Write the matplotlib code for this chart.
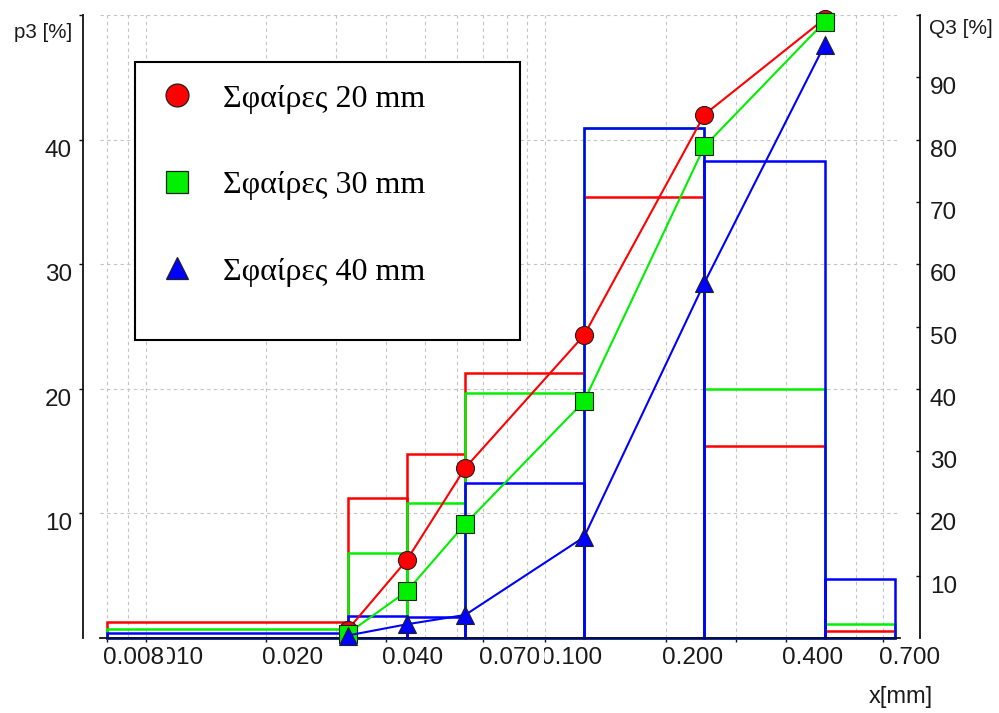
import numpy as np
import matplotlib
matplotlib.use("Agg")
import matplotlib.pyplot as plt
from matplotlib.lines import Line2D
from matplotlib.patches import Rectangle

# --- sieve classes (mm) ---
edges = [0.008, 0.032, 0.045, 0.063, 0.125, 0.25, 0.5, 0.75]
sieves = edges[1:-1]

# p3: mass fraction per class [%]
p3_20 = [1.3, 11.2, 14.8, 21.3, 35.4, 15.4, 0.6]
p3_30 = [0.7, 6.8, 10.8, 19.7, 40.9, 20.0, 1.1]
p3_40 = [0.4, 1.8, 1.7, 12.4, 40.9, 38.3, 4.7]

# Q3: cumulative passing at each sieve [%]
Q3_20 = [1.3, 12.5, 27.3, 48.6, 84.0, 99.4]
Q3_30 = [0.7, 7.5, 18.3, 38.0, 78.9, 98.9]
Q3_40 = [0.4, 2.2, 3.7, 16.2, 57.0, 95.2]

labels = ["Σφαίρες 20 mm", "Σφαίρες 30 mm", "Σφαίρες 40 mm"]
colors = ["#ff0000", "#00f000", "#0000ff"]
markers = ["o", "s", "^"]

xticks = [0.008, 0.010, 0.020, 0.040, 0.070, 0.100, 0.200, 0.400, 0.700]
xticklabels = ["0.008", "0.010", "0.020", "0.040", "0.070", "0.100", "0.200", "0.400", "0.700"]

plt.rcParams["font.family"] = ["Liberation Sans", "DejaVu Sans"]
txt_col = "#1a1a1a"

fig = plt.figure(figsize=(9.99, 7.13), dpi=100)
ax = fig.add_axes([100 / 999, 75 / 713, 800 / 999, 623 / 713])
ax2 = ax.twinx()

# --- histogram (p3) ---
widths = np.diff(edges)
for p3, c in zip([p3_20, p3_30, p3_40], colors):
    ax.bar(edges[:-1], p3, width=widths, align="edge", fill=False,
           edgecolor=c, linewidth=1.8, clip_on=False, zorder=2)

ax.set_xscale("log")
ax.set_xlim(0.00768, 0.772)
ax.set_ylim(0, 50)

# --- cumulative curves (Q3) ---
for Q3, c, m in zip([Q3_20, Q3_30, Q3_40], colors, markers):
    ax2.plot(sieves, Q3, color=c, lw=1.5, marker=m, ms=13,
             mfc=c, mec="#202020", mew=0.8, clip_on=False, zorder=3)
ax2.set_ylim(0, 100)

# grid
grid_kw = dict(color="#c4c4c4", linestyle=(0, (3, 3)), linewidth=0.8)
ax.grid(which="both", axis="x", **grid_kw)
ax.grid(which="major", axis="y", **grid_kw)
ax.set_axisbelow(True)

# spines
for s in ["top", "right"]:
    ax.spines[s].set_visible(False)
for s in ["top", "left", "bottom"]:
    ax2.spines[s].set_visible(False)
ax.spines["left"].set_position(("outward", 12.2))
ax2.spines["right"].set_position(("outward", 14.4))
for sp in [ax.spines["left"], ax.spines["bottom"], ax2.spines["right"]]:
    sp.set_linewidth(1.3)
    sp.set_color("#111111")

# x ticks: labels drawn by hand so the left ones sit on top
ax.set_xticks(xticks + [0.3])
ax.set_xticklabels([])
ax.xaxis.set_minor_formatter(plt.NullFormatter())
ax.tick_params(axis="x", which="major", direction="out", length=3, width=1, color="#111111")
ax.tick_params(axis="x", which="minor", length=0)
for i, (xv, lab) in enumerate(zip(xticks, xticklabels)):
    ax.annotate(lab, xy=(xv, 0), xycoords=("data", "axes fraction"),
                xytext=(-4, -9), textcoords="offset pixels",
                ha="left", va="top", fontsize=17.5, color=txt_col,
                bbox=dict(fc="white", ec="none", pad=2.5),
                annotation_clip=False, zorder=30 - i)

# left y ticks
ax.set_yticks([10, 20, 30, 40, 50])
ax.set_yticklabels(["10", "20", "30", "40", ""])
ax.tick_params(axis="y", direction="out", length=3, width=1, pad=5,
               labelsize=17.5, labelcolor=txt_col, color="#111111")
for t in ax.get_yticklabels():
    t.set_verticalalignment("top")

# right y ticks
ax2.set_yticks([10, 20, 30, 40, 50, 60, 70, 80, 90, 100])
ax2.set_yticklabels(["10", "20", "30", "40", "50", "60", "70", "80", "90", ""])
ax2.tick_params(axis="y", direction="in", length=3, width=1, pad=7,
                labelsize=17.5, labelcolor=txt_col, color="#111111")
for t in ax2.get_yticklabels():
    t.set_verticalalignment("top")

# axis titles
fig.text(72 / 999, 1 - 32 / 713, "p3 [%]", ha="right", va="center", fontsize=14.8, color=txt_col)
fig.text(929 / 999, 1 - 29 / 713, "Q3 [%]", ha="left", va="center", fontsize=15, color=txt_col)
fig.text(933 / 999, 1 - 697 / 713, "x[mm]", ha="right", va="center", fontsize=17, color=txt_col)

# legend box
ax2.add_patch(Rectangle((0.04375, 0.4783), 0.48125, 0.4463, transform=ax2.transAxes,
                        fc="white", ec="black", lw=1.5, zorder=10, clip_on=False))
handles = [Line2D([], [], ls="none", marker=m, ms=16.5, mfc=c, mec="#202020", mew=0.9)
           for m, c in zip(markers, colors)]
leg = ax2.legend(handles, labels, loc="upper left", bbox_to_anchor=(0.07625, 0.889),
                 frameon=False, borderpad=0, handlelength=1.0, handletextpad=0.94,
                 labelspacing=1.79, borderaxespad=0,
                 prop={"family": "Liberation Serif", "size": 23})
leg.set_zorder(11)

fig.savefig("out.png", dpi=100)
